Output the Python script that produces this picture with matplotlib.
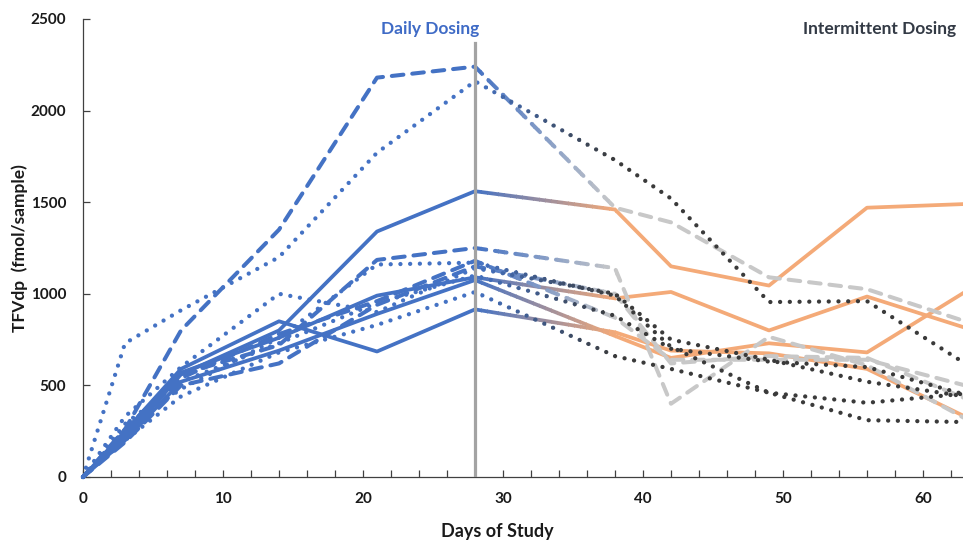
import matplotlib
matplotlib.use("Agg")
from matplotlib import pyplot as plt
from matplotlib.colors import to_rgb
from matplotlib.patches import Rectangle
from matplotlib.ticker import MultipleLocator

plt.rcParams["font.family"] = ["Lato", "DejaVu Sans"]
plt.rcParams["font.weight"] = "bold"

# sampling days, daily dosing to day 28 then intermittent dosing
days = [0, 3, 7, 14, 21, 28, 38, 42, 49, 56, 63]

# solid lines (blue -> orange)
solid_1 = [0, 210, 560, 800, 1340, 1560, 1460, 1150, 1045, 1470, 1490]
solid_2 = [0, 250, 590, 850, 685, 915, 790, 690, 675, 590, 330]
solid_3 = [0, 230, 570, 760, 990, 1090, 975, 1010, 800, 985, 815]
solid_4 = [0, 200, 520, 690, 890, 1075, 770, 650, 730, 680, 1010]

# dashed lines (blue -> light grey)
dashed_1 = [0, 260, 800, 1350, 2180, 2240, 1470, 1390, 1090, 1025, 850]
dashed_2 = [0, 260, 560, 720, 1185, 1250, 1140, 400, 765, 610, 320]
dashed_3 = [0, 240, 540, 780, 960, 1180, 870, 640, 640, 640, 500]
dashed_4 = [0, 190, 500, 620, 940, 1150, 1000, 620, 660, 650, 430]

# dotted lines (blue -> dark grey)
dotted_1 = [0, 730, 910, 1200, 1770, 2160, 1730, 1520, 955, 960, 620]
dotted_2 = [0, 330, 600, 1000, 900, 1140, 1000, 750, 640, 520, 440]
dotted_3 = [0, 270, 480, 760, 1160, 1170, 990, 710, 460, 310, 300]
dotted_4 = [0, 200, 440, 680, 830, 1010, 660, 590, 460, 405, 455]
dotted_5 = [0, 290, 520, 730, 950, 1100, 880, 700, 630, 600, 450]

BLUE = "#4472C4"
ORANGE = "#F4AA78"
LIGHT_GREY = "#C8C8C8"
DARK_GREY = "#3A3A3A"

solid_style = dict(lw=2.7, solid_capstyle="round", solid_joinstyle="round")
dashed_style = dict(lw=2.9, linestyle=(0, (2.9, 2.2)), dash_capstyle="round")
dotted_style = dict(lw=3.1, linestyle=(0, (0.01, 2.25)), dash_capstyle="round")


def mix(c0, c1, t):
    a, b = to_rgb(c0), to_rgb(c1)
    return tuple(a[i] + (b[i] - a[i]) * t for i in range(3))


def draw_series(ax, y, style, end_color, z, n_strips=24):
    # colour changes from blue to end_color between day 28 and 38
    edges = [-10, 28]
    for i in range(1, n_strips):
        edges.append(28 + 10 * i / n_strips)
    edges += [38, 100]
    for i in range(len(edges) - 1):
        if i == 0:
            c = BLUE
        elif i == len(edges) - 2:
            c = end_color
        else:
            c = mix(BLUE, end_color, (i - 0.5) / n_strips)
        (line,) = ax.plot(days, y, color=c, zorder=z, **style)
        x0, x1 = edges[i], edges[i + 1] + 0.06
        rect = Rectangle((x0, -1e4), x1 - x0, 2e4, transform=ax.transData)
        line.set_clip_path(rect)


fig = plt.figure(figsize=(9.63, 5.4), dpi=100)
ax = fig.add_axes([83 / 963, 63 / 540, 880 / 963, 458 / 540])

for s in (solid_1, solid_2, solid_3, solid_4):
    draw_series(ax, s, solid_style, ORANGE, 2)
for s in (dashed_1, dashed_2, dashed_3, dashed_4):
    draw_series(ax, s, dashed_style, LIGHT_GREY, 3)
for s in (dotted_1, dotted_2, dotted_3, dotted_4, dotted_5):
    draw_series(ax, s, dotted_style, DARK_GREY, 4)

ax.plot([28, 28], [0, 2370], color="#A3A3A3", lw=2.3, zorder=5)

ax.set_xlim(0, 880 / 14)
ax.set_ylim(0, 2500)
ax.set_xticks(range(0, 70, 10))
ax.set_yticks(range(0, 2501, 500))
ax.xaxis.set_minor_locator(MultipleLocator(2))
ax.tick_params(which="both", direction="in", length=5, width=0.9, color="#404040")
ax.tick_params(axis="x", pad=11, labelsize=11, labelcolor="#1A1A1A")
ax.tick_params(axis="y", pad=12, labelsize=11, labelcolor="#1A1A1A")
for side in ("top", "right"):
    ax.spines[side].set_visible(False)
for side in ("left", "bottom"):
    ax.spines[side].set_color("#404040")
    ax.spines[side].set_linewidth(0.9)

ax.text(24.8, 2445, "Daily Dosing", color="#3F6BC6", fontsize=12.5,
        ha="center", va="center")
ax.text(56.9, 2445, "Intermittent Dosing", color="#333A45", fontsize=12.5,
        ha="center", va="center")

fig.text(497 / 963, 1 - 531 / 540, "Days of Study", fontsize=13,
         ha="center", va="center", color="#1A1A1A")
fig.text(20 / 963, 1 - 248 / 540, "TFVdp  (fmol/sample)", fontsize=12.5,
         rotation=90, ha="center", va="center", color="#1A1A1A")

fig.savefig("out.png", dpi=100)
